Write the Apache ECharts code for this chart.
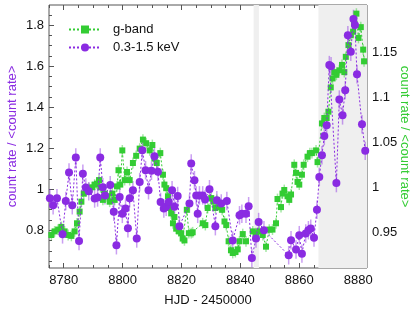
<!DOCTYPE html>
<html><head><meta charset="utf-8">
<script src="https://cdn.jsdelivr.net/npm/echarts@6/dist/echarts.min.js"></script>
<style>html,body{margin:0;padding:0;background:#fff}#c{width:415px;height:318px}</style>
</head><body><div id="c"></div>
<script>
// X-ray 0.3-1.5 keV (left axis)
const hjdX = [8775.3,8776.4,8777.7,8779.6,8780.7,8781.8,8782.9,8784.1,8785.2,8786.5,8787.5,8788.5,8790.5,8791.5,8792.4,8793.3,8794.0,8795.8,8797.0,8797.9,8799.0,8799.9,8801.0,8801.8,8802.4,8803.5,8804.8,8805.8,8806.7,8807.8,8808.8,8809.8,8810.8,8812.0,8812.9,8814.0,8814.8,8815.7,8816.8,8817.6,8818.7,8819.3,8822.7,8823.3,8824.4,8825.0,8825.5,8826.1,8827.2,8828.0,8829.5,8831.5,8832.0,8833.5,8835.4,8837.4,8839.7,8840.5,8841.9,8842.8,8843.9,8845.3,8846.2,8848.0,8856.4,8857.2,8858.9,8860.0,8860.9,8862.2,8863.1,8863.9,8865.0,8866.0,8866.8,8867.7,8868.5,8869.3,8870.2,8870.8,8872.6,8873.6,8874.7,8875.6,8876.5,8877.5,8878.4,8878.9,8879.6,8881.3,8882.4];
const rateX = [0.956,0.922,0.956,0.780,0.943,1.081,0.922,1.155,0.748,1.076,1.008,0.990,0.955,0.960,1.155,1.010,0.970,1.020,0.890,0.727,0.962,0.880,0.906,0.810,0.956,0.995,0.760,1.035,1.190,1.093,0.995,1.090,1.161,1.085,0.938,0.906,0.914,0.938,0.995,0.914,0.967,0.820,0.930,1.125,1.044,0.970,0.880,0.970,0.970,0.950,1.000,0.820,0.946,0.930,0.943,0.750,0.873,0.880,0.880,0.917,0.665,0.760,0.840,0.800,0.678,0.751,0.706,0.776,0.686,0.784,0.800,0.808,0.764,0.900,1.060,1.166,1.259,1.312,1.605,1.600,1.030,1.437,1.360,1.483,1.751,1.670,1.830,1.800,1.560,1.317,1.187];
const errX = 0.045;
// g-band (right axis)
const hjdG = [8775.8,8776.9,8778.1,8779.2,8780.3,8781.5,8782.6,8783.7,8784.5,8785.4,8786.0,8786.8,8787.7,8788.6,8789.7,8790.5,8791.3,8792.0,8792.5,8793.3,8793.9,8794.7,8795.6,8796.5,8797.3,8798.1,8798.6,8799.2,8799.9,8800.7,8801.5,8802.4,8803.5,8804.6,8805.8,8806.9,8808.0,8809.2,8810.1,8810.8,8811.6,8812.8,8813.7,8814.2,8814.8,8815.4,8815.9,8816.5,8817.1,8817.6,8818.2,8819.1,8819.9,8820.4,8821.0,8821.8,8822.5,8823.3,8823.8,8827.2,8828.1,8828.9,8830.1,8830.8,8831.5,8832.0,8832.9,8833.8,8834.6,8835.2,8836.0,8836.8,8837.4,8838.3,8839.1,8839.7,8840.8,8841.9,8844.2,8845.3,8846.4,8847.6,8848.7,8849.8,8850.9,8852.1,8852.6,8853.8,8854.3,8854.9,8856.0,8856.6,8857.2,8858.3,8858.9,8859.4,8860.0,8860.9,8861.5,8862.8,8863.6,8864.3,8865.7,8866.2,8867.7,8868.5,8869.3,8869.9,8870.7,8871.3,8871.9,8872.6,8873.6,8874.5,8875.3,8875.8,8876.7,8877.5,8878.3,8878.6,8879.4,8880.1,8880.9,8881.7,8882.0];
const rateG = [0.947,0.951,0.953,0.956,0.951,0.947,0.946,0.951,0.960,0.973,0.984,0.993,0.997,0.999,1.000,1.003,1.004,1.008,1.000,0.986,0.993,0.990,0.984,0.993,0.986,1.001,1.019,1.003,1.041,1.008,1.017,1.008,1.027,1.035,1.043,1.053,1.049,1.041,1.047,1.032,1.027,1.038,1.014,1.003,0.999,0.990,0.977,0.971,0.960,0.967,0.954,0.951,0.949,0.943,0.941,0.975,0.949,0.949,0.950,0.960,0.958,0.977,0.988,0.984,0.977,0.986,0.978,0.975,0.962,0.958,0.940,0.930,0.927,0.928,0.931,0.940,0.948,0.940,0.951,0.949,0.951,0.947,0.934,0.953,0.953,0.960,0.987,0.978,0.993,0.997,0.990,0.986,0.992,1.025,1.016,1.006,1.003,1.014,1.025,1.034,1.038,1.038,1.041,1.028,1.071,1.077,1.077,1.084,1.111,1.121,1.128,1.125,1.130,1.136,1.128,1.145,1.158,1.169,1.173,1.182,1.193,1.166,1.178,1.153,1.140];
const errG = 0.006;
// ticks and shading
const xLabels = [8780,8800,8820,8840,8860,8880];
const xMinor = [8775,8785,8790,8795,8805,8810,8815,8825,8830,8835,8845,8850,8855,8865,8870,8875];
const yLeftLabels = [0.8,1,1.2,1.4,1.6,1.8];
const yLeftMinor = [0.65,0.7,0.75,0.85,0.9,0.95,1.05,1.1,1.15,1.25,1.3,1.35,1.45,1.5,1.55,1.65,1.7,1.75,1.85];
const yRightLabels = [0.95,1,1.05,1.1,1.15];
const yRightMinor = [0.925,0.975,1.025,1.075,1.125,1.175,1.2];
const shaded = [[8844.5,8846.3],[8866.5,8883]];

const PURPLE = '#8a2be2', GREEN = '#33cc33';
const XMIN = 8775, XMAX = 8883;
const LMIN = 0.616, LMAX = 1.898, RMIN = 0.9103, RMAX = 1.2026;
const axCol = '#555';
const font = 'Liberation Sans, Arial, sans-serif';

function xAx(extra){ return Object.assign({type:'value', min:XMIN, max:XMAX, splitLine:{show:false},
  axisLine:{show:false}, axisTick:{show:false}, axisLabel:{show:false}}, extra); }
function yAx(extra){ return Object.assign({type:'value', splitLine:{show:false},
  axisLine:{show:false}, axisTick:{show:false}, axisLabel:{show:false}}, extra); }

function errSeries(xs, ys, e, yIdx, color){
  return {type:'custom', xAxisIndex:0, yAxisIndex:yIdx, silent:true, clip:true, z:1,
    data: xs.map((x,i)=>[x, ys[i], e]),
    renderItem:function(params, api){
      const x=api.value(0), y=api.value(1), er=api.value(2);
      const p1=api.coord([x,y-er]), p2=api.coord([x,y+er]);
      return {type:'line', shape:{x1:p1[0],y1:p1[1],x2:p2[0],y2:p2[1]}, style:{stroke:color, lineWidth:1.5}};
    }};
}

const chart = echarts.init(document.getElementById('c'), null, {renderer:'canvas'});
chart.setOption({
  animation:false,
  backgroundColor:'#fff',
  textStyle:{fontFamily:font},
  grid:{left:49, right:48, top:5, bottom:50, show:true, borderColor:axCol, borderWidth:1, backgroundColor:'transparent',
    containLabel:false, outerBoundsMode:'none'},
  legend:{data:['g-band','0.3-1.5 keV'], orient:'vertical', left:63, top:18, itemWidth:32, itemHeight:10, itemGap:5,
    textStyle:{fontSize:13, color:'#111', fontFamily:font, padding:[0,0,0,7]}},
  xAxis:[
    xAx({position:'bottom', name:'HJD - 2450000', nameLocation:'middle', nameGap:26, nameMoveOverlap:false,
      nameTextStyle:{fontSize:13, color:'#111', fontFamily:font},
      axisTick:{show:true, inside:true, length:5, customValues:xLabels, lineStyle:{color:axCol}},
      axisLabel:{show:true, customValues:xLabels, fontSize:13, color:'#111', margin:6, fontFamily:font, formatter:v=>String(v)}}),
    xAx({position:'bottom', axisTick:{show:true, inside:true, length:3, customValues:xMinor, lineStyle:{color:axCol}}}),
    xAx({position:'top', axisTick:{show:true, inside:true, length:5, customValues:xLabels, lineStyle:{color:axCol}}}),
    xAx({position:'top', axisTick:{show:true, inside:true, length:3, customValues:xMinor, lineStyle:{color:axCol}}})
  ],
  yAxis:[
    yAx({position:'left', min:LMIN, max:LMAX, name:'count rate / <count rate>', nameLocation:'middle', nameGap:30, nameMoveOverlap:false,
      nameTextStyle:{fontSize:13, color:PURPLE, fontFamily:font},
      axisTick:{show:true, inside:true, length:5, customValues:yLeftLabels, lineStyle:{color:axCol}},
      axisLabel:{show:true, customValues:yLeftLabels, fontSize:13, color:'#111', margin:5, fontFamily:font}}),
    yAx({position:'right', min:RMIN, max:RMAX, name:'count rate / <count rate>', nameLocation:'middle', nameGap:31, nameRotate:-90, nameMoveOverlap:false,
      nameTextStyle:{fontSize:13, color:GREEN, fontFamily:font},
      axisTick:{show:true, inside:true, length:5, customValues:yRightLabels, lineStyle:{color:axCol}},
      axisLabel:{show:true, customValues:yRightLabels, fontSize:13, color:'#111', margin:5, fontFamily:font}}),
    yAx({position:'left', min:LMIN, max:LMAX, axisTick:{show:true, inside:true, length:3, customValues:yLeftMinor, lineStyle:{color:axCol}}}),
    yAx({position:'right', min:RMIN, max:RMAX, axisTick:{show:true, inside:true, length:3, customValues:yRightMinor, lineStyle:{color:axCol}}})
  ],
  series:[
    {type:'line', name:'shade', xAxisIndex:0, yAxisIndex:0, data:[], silent:true, z:0,
      markArea:{silent:true, itemStyle:{color:'#efefef'}, data: shaded.map(s=>[{xAxis:s[0]},{xAxis:s[1]}])}},
    errSeries(hjdG, rateG, errG, 1, 'rgba(51,204,51,0.45)'),
    errSeries(hjdX, rateX, errX, 0, 'rgba(138,43,226,0.45)'),
    {type:'line', name:'g-band', xAxisIndex:0, yAxisIndex:1, z:3,
      data: hjdG.map((x,i)=>[x, rateG[i]]),
      symbol:'rect', symbolSize:6, itemStyle:{color:GREEN}, lineStyle:{color:GREEN, width:1, type:[2,2]}},
    {type:'line', name:'0.3-1.5 keV', xAxisIndex:0, yAxisIndex:0, z:4,
      data: hjdX.map((x,i)=>[x, rateX[i]]),
      symbol:'circle', symbolSize:8, itemStyle:{color:PURPLE}, lineStyle:{color:PURPLE, width:1, type:[2,2]}}
  ]
});
</script></body></html>
